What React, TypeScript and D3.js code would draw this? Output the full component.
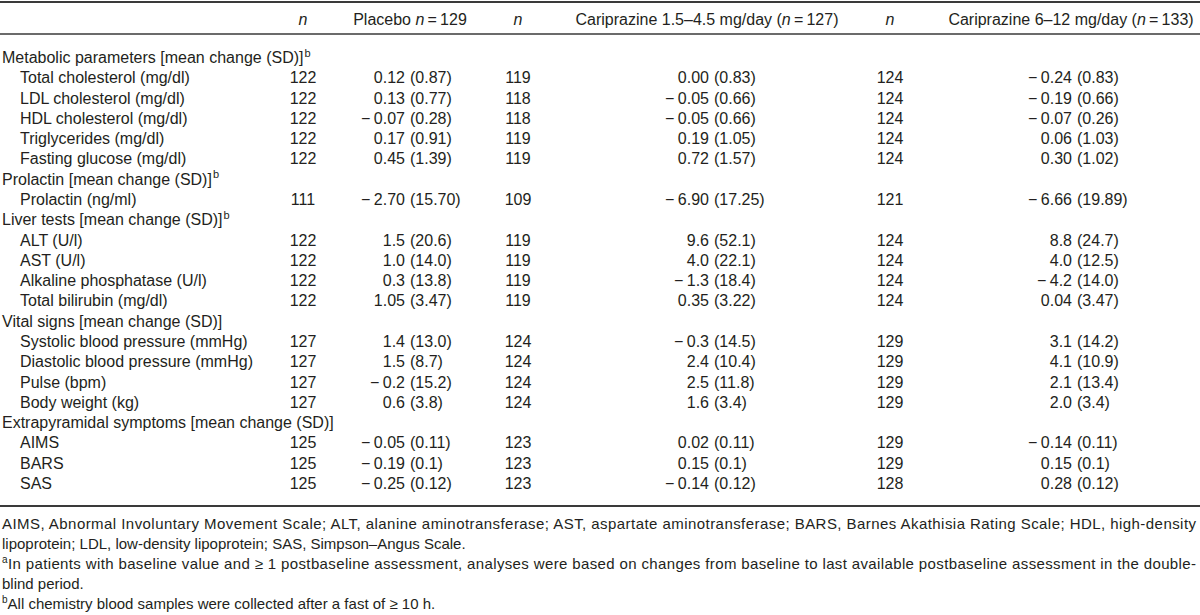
import React from 'react';
import * as d3 from 'd3';

// ---------- DATA ----------
const sectionTitles = [
  'Metabolic parameters [mean change (SD)]',
  'Prolactin [mean change (SD)]',
  'Liver tests [mean change (SD)]',
  'Vital signs [mean change (SD)]',
  'Extrapyramidal symptoms [mean change (SD)]',
];
const sectionSup = ['b', 'b', 'b', '', ''];
const sectionSizes = [5, 1, 4, 4, 3];
const itemLabels = [
  'Total cholesterol (mg/dl)', 'LDL cholesterol (mg/dl)', 'HDL cholesterol (mg/dl)',
  'Triglycerides (mg/dl)', 'Fasting glucose (mg/dl)', 'Prolactin (ng/ml)',
  'ALT (U/l)', 'AST (U/l)', 'Alkaline phosphatase (U/l)', 'Total bilirubin (mg/dl)',
  'Systolic blood pressure (mmHg)', 'Diastolic blood pressure (mmHg)', 'Pulse (bpm)',
  'Body weight (kg)', 'AIMS', 'BARS', 'SAS',
];
const placeboN = [122, 122, 122, 122, 122, 111, 122, 122, 122, 122, 127, 127, 127, 127, 125, 125, 125];
const placeboMean = ['0.12', '0.13', '−0.07', '0.17', '0.45', '−2.70', '1.5', '1.0', '0.3', '1.05', '1.4', '1.5', '−0.2', '0.6', '−0.05', '−0.19', '−0.25'];
const placeboSD = ['0.87', '0.77', '0.28', '0.91', '1.39', '15.70', '20.6', '14.0', '13.8', '3.47', '13.0', '8.7', '15.2', '3.8', '0.11', '0.1', '0.12'];
const lowN = [119, 118, 118, 119, 119, 109, 119, 119, 119, 119, 124, 124, 124, 124, 123, 123, 123];
const lowMean = ['0.00', '−0.05', '−0.05', '0.19', '0.72', '−6.90', '9.6', '4.0', '−1.3', '0.35', '−0.3', '2.4', '2.5', '1.6', '0.02', '0.15', '−0.14'];
const lowSD = ['0.83', '0.66', '0.66', '1.05', '1.57', '17.25', '52.1', '22.1', '18.4', '3.22', '14.5', '10.4', '11.8', '3.4', '0.11', '0.1', '0.12'];
const highN = [124, 124, 124, 124, 124, 121, 124, 124, 124, 124, 129, 129, 129, 129, 129, 129, 128];
const highMean = ['−0.24', '−0.19', '−0.07', '0.06', '0.30', '−6.66', '8.8', '4.0', '−4.2', '0.04', '3.1', '4.1', '2.1', '2.0', '−0.14', '0.15', '0.28'];
const highSD = ['0.83', '0.66', '0.26', '1.03', '1.02', '19.89', '24.7', '12.5', '14.0', '3.47', '14.2', '10.9', '13.4', '3.4', '0.11', '0.1', '0.12'];

const groupNames = ['Placebo', 'Cariprazine 1.5–4.5 mg/day', 'Cariprazine 6–12 mg/day'];
const groupTotals = [129, 127, 133];

const footnoteAbbrev1 = 'AIMS, Abnormal Involuntary Movement Scale; ALT, alanine aminotransferase; AST, aspartate aminotransferase; BARS, Barnes Akathisia Rating Scale; HDL, high-density';
const footnoteAbbrev2 = 'lipoprotein; LDL, low-density lipoprotein; SAS, Simpson–Angus Scale.';
const footnoteA1 = 'In patients with baseline value and ≥ 1 postbaseline assessment, analyses were based on changes from baseline to last available postbaseline assessment in the double-';
const footnoteA2 = 'blind period.';
const footnoteB = 'All chemistry blood samples were collected after a fast of ≥ 10 h.';

// ---------- LAYOUT ----------
const W = 1200;
const H = 615;
const FONT = '"Liberation Sans", Arial, Helvetica, sans-serif';
const INK = '#231f20';
const RULE = '#3a3a3a';

type Row = { kind: 'section'; label: string; sup: string } | { kind: 'item'; idx: number };

const rows: Row[] = [];
{
  let k = 0;
  sectionTitles.forEach((t, s) => {
    rows.push({ kind: 'section', label: t, sup: sectionSup[s] });
    for (let j = 0; j < sectionSizes[s]; j++) rows.push({ kind: 'item', idx: k++ });
  });
}

const y = d3.scaleLinear().domain([0, rows.length - 1]).range([63, 489]);

// column anchors: n centre, mean right edge
const nX = [303, 518, 890];
const meanX = [405, 709, 1072];
const headerX = [410, 707, 1071];
const sdGap = 5;

const nArrays = [placeboN, lowN, highN];
const meanArrays = [placeboMean, lowMean, highMean];
const sdArrays = [placeboSD, lowSD, highSD];

function Mean({ v, x, yy }: { v: string; x: number; yy: number }) {
  const neg = v.startsWith('−');
  return (
    <text x={x} y={yy} textAnchor="end">
      {neg ? (
        <>
          <tspan>−</tspan>
          <tspan dx={3.5}>{v.slice(1)}</tspan>
        </>
      ) : (
        v
      )}
    </text>
  );
}

export default function App() {
  const fnY = d3.range(5).map((i) => 528.5 + i * 20);
  return (
    <svg
      width={W}
      height={H}
      viewBox={`0 0 ${W} ${H}`}
      style={{ position: 'absolute', left: 0, top: 0, background: '#fff' }}
      fontFamily={FONT}
      fill={INK}
    >
      <rect x={0} y={0} width={W} height={H} fill="#fff" />
      {/* rules */}
      <line x1={0} x2={W} y1={2} y2={2} stroke={RULE} strokeWidth={2} />
      <line x1={0} x2={W} y1={34} y2={34} stroke={RULE} strokeWidth={1.4} />
      <line x1={0} x2={W} y1={506} y2={506} stroke={RULE} strokeWidth={1.8} />

      {/* header */}
      <g fontSize={16}>
        {nX.map((x, i) => (
          <text key={'nh' + i} x={x} y={25} textAnchor="middle" fontStyle="italic">n</text>
        ))}
        <text x={headerX[0]} y={25} textAnchor="middle">
          {groupNames[0] + ' '}
          <tspan fontStyle="italic">n</tspan>
          {'\u2009=\u2009' + groupTotals[0]}
        </text>
        {[1, 2].map((g) => (
          <text key={'gh' + g} x={headerX[g]} y={25} textAnchor="middle">
            {groupNames[g] + ' ('}
            <tspan fontStyle="italic">n</tspan>
            {'\u2009=\u2009' + groupTotals[g] + ')'}
          </text>
        ))}
      </g>

      {/* body */}
      <g fontSize={16}>
        {rows.map((r, i) => {
          const yy = y(i);
          if (r.kind === 'section') {
            return (
              <text key={'r' + i} x={2} y={yy}>
                {r.label}
                {r.sup && (
                  <tspan fontSize={11} dy={-6.5} dx={1}>{r.sup}</tspan>
                )}
              </text>
            );
          }
          const k = r.idx;
          return (
            <g key={'r' + i}>
              <text x={20} y={yy}>{itemLabels[k]}</text>
              {[0, 1, 2].map((g) => (
                <g key={g}>
                  <text x={nX[g]} y={yy} textAnchor="middle">{nArrays[g][k]}</text>
                  <Mean v={meanArrays[g][k]} x={meanX[g]} yy={yy} />
                  <text x={meanX[g] + sdGap} y={yy}>{'(' + sdArrays[g][k] + ')'}</text>
                </g>
              ))}
            </g>
          );
        })}
      </g>

      {/* footnotes */}
      <g fontSize={15}>
        <text x={2} y={fnY[0]} textLength={1194} lengthAdjust="spacing">{footnoteAbbrev1}</text>
        <text x={2} y={fnY[1]}>{footnoteAbbrev2}</text>
        <text x={2} y={fnY[2]} textLength={1194} lengthAdjust="spacing">
          <tspan fontSize={10} dy={-6}>a</tspan>
          <tspan dy={6}>{footnoteA1}</tspan>
        </text>
        <text x={2} y={fnY[3]}>{footnoteA2}</text>
        <text x={2} y={fnY[4]}>
          <tspan fontSize={10} dy={-6}>b</tspan>
          <tspan dy={6}>{footnoteB}</tspan>
        </text>
      </g>
    </svg>
  );
}
